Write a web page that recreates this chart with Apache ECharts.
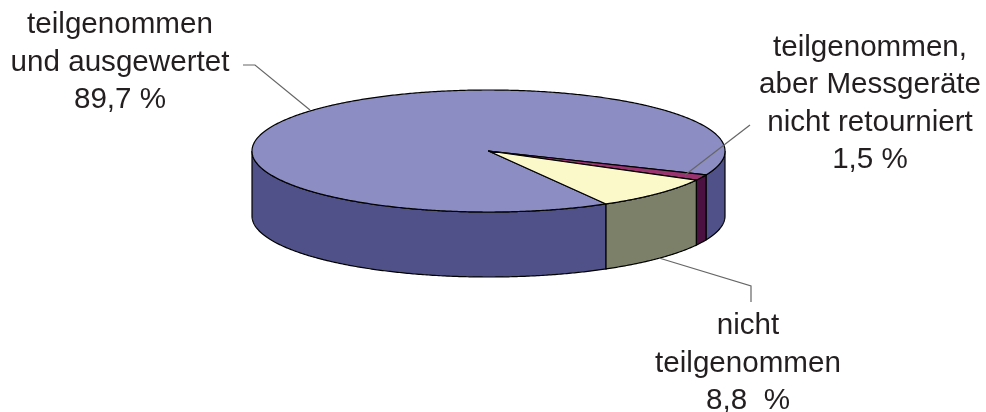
<!DOCTYPE html>
<html><head><meta charset="utf-8">
<style>html,body{margin:0;padding:0;background:#fff}#c{width:986px;height:412px}</style>
<script src="https://cdn.jsdelivr.net/npm/echarts@6/dist/echarts.min.js"></script>
</head><body><div id="c"></div>
<script>
// Data, clockwise from the start angle
var categories = ['teilgenommen\nund ausgewertet', 'teilgenommen,\naber Messgeräte\nnicht retourniert', 'nicht\nteilgenommen'];
var shareLabels = ['89,7 %', '1,5 %', '8,8  %'];
var values = [89.7, 1.5, 8.8];

// Presentation
var topColors = ['#8c8dc3', '#9a3470', '#fbf8c9'];
var sideColors = ['#4f5188', '#4b1140', '#7d8069'];
var labelPos = [[120, 62.5], [870, 104], [748, 363.5]];
var leaders = [
  [[243, 65], [255, 65], [310, 110]],
  [[750, 125], [685, 175]],
  [[659, 258], [751, 286], [751, 302]]
];
var cx = 488.5, cy = 151, rx = 236.5, ry = 61, depth = 65, startDeg = 60.2;

var total = values.reduce(function (a, b) { return a + b; }, 0);
function pt(deg, dy) {
  var r = deg * Math.PI / 180;
  return [cx + rx * Math.cos(r), cy + ry * Math.sin(r) + (dy || 0)];
}
function arc(a, b, dy) {
  var out = [], n = Math.max(2, Math.ceil(Math.abs(b - a) * 2));
  for (var i = 0; i <= n; i++) out.push(pt(a + (b - a) * i / n, dy));
  return out;
}
function renderItem(params, api) {
  var idx = params.dataIndex, val = api.value(0), before = 0;
  for (var i = 0; i < idx; i++) before += values[i];
  var a = startDeg + before / total * 360, b = a + val / total * 360;
  var kids = [];
  // Visible wall: front half of the rim only
  [[0, 180], [360, 540]].forEach(function (w) {
    var s = Math.max(a, w[0]), e = Math.min(b, w[1]);
    if (e > s) {
      kids.push({
        type: 'polygon',
        shape: { points: arc(s, e, 0).concat(arc(e, s, depth)) },
        style: { fill: sideColors[idx], stroke: '#000', lineWidth: 1.2 }
      });
    }
  });
  kids.push({
    type: 'polygon',
    shape: { points: [[cx, cy]].concat(arc(a, b, 0)) },
    style: { fill: topColors[idx], stroke: '#000', lineWidth: 1.2, lineJoin: 'round' }
  });
  kids.push({
    type: 'polyline', z2: 10,
    shape: { points: leaders[idx] },
    style: { fill: 'none', stroke: '#666', lineWidth: 1.2 }
  });
  kids.push({
    type: 'text', z2: 11,
    style: {
      text: categories[idx] + '\n' + shareLabels[idx],
      x: labelPos[idx][0], y: labelPos[idx][1],
      align: 'center', verticalAlign: 'middle',
      fontFamily: '"Liberation Sans", Arial, sans-serif', fontSize: 29.6,
      lineHeight: 37.5, fill: '#231f20'
    }
  });
  return { type: 'group', children: kids };
}
var chart = echarts.init(document.getElementById('c'), null, { renderer: 'canvas' });
chart.setOption({
  backgroundColor: '#fff',
  animation: false,
  series: [{
    type: 'custom',
    coordinateSystem: 'none',
    silent: true,
    clip: false,
    renderItem: renderItem,
    data: values.map(function (v, i) { return { name: categories[i], value: [v] }; })
  }]
});
</script></body></html>
